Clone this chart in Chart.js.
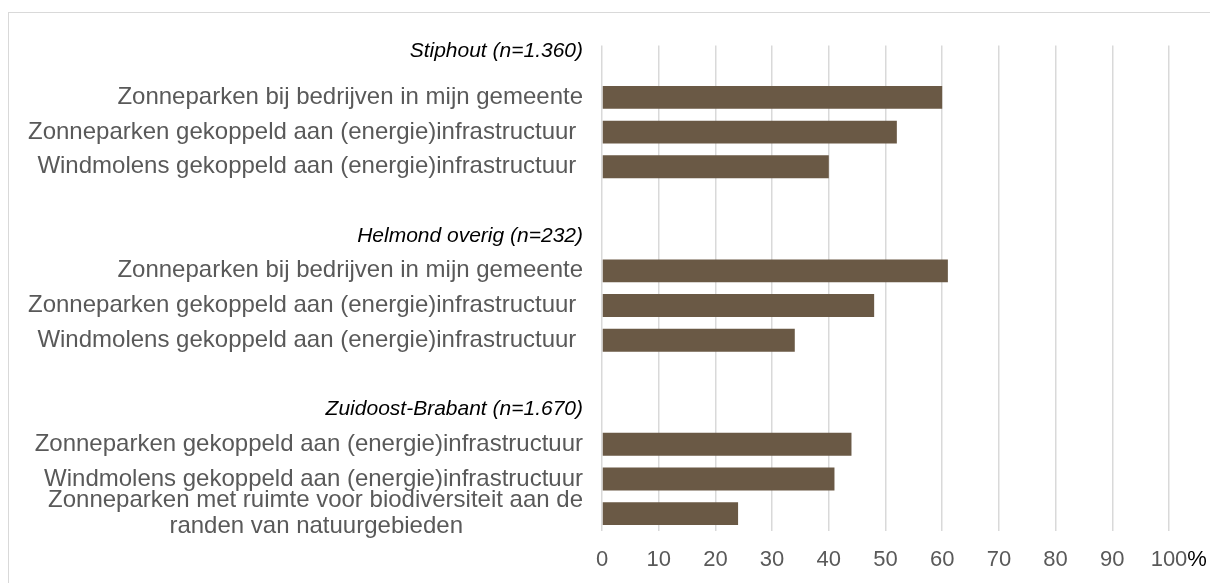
<html>
<head>
<meta charset="UTF-8">
<title>Voorkeur locaties</title>
<style>
  html, body { margin: 0; padding: 0; background: #fff; overflow: hidden; }
  #kader { position: absolute; left: 8px; top: 12px; width: 1240px; height: 620px; border: 1.5px solid #d9d9d9; }
  #wrap { position: absolute; left: 0; top: 0; width: 1210px; height: 583px; }
</style>
</head>
<body>
<div id="kader"></div>
<div id="wrap"><canvas id="myChart"></canvas></div>

<script src="https://cdn.jsdelivr.net/npm/chart.js"></script>
<script>
// rijen van boven naar beneden (kopjes en lege regels zonder balk)
var categorieen = [
  ['Stiphout (n=1.360)', ''],
  'Zonneparken bij bedrijven in mijn gemeente',
  'Zonneparken gekoppeld aan (energie)infrastructuur ',
  'Windmolens gekoppeld aan (energie)infrastructuur ',
  '',
  'Helmond overig (n=232)',
  'Zonneparken bij bedrijven in mijn gemeente',
  'Zonneparken gekoppeld aan (energie)infrastructuur ',
  'Windmolens gekoppeld aan (energie)infrastructuur ',
  '',
  'Zuidoost-Brabant (n=1.670)',
  'Zonneparken gekoppeld aan (energie)infrastructuur',
  'Windmolens gekoppeld aan (energie)infrastructuur',
  ['Zonneparken met ruimte voor biodiversiteit aan de', 'randen van natuurgebieden                  ']
];
var kopjes = [0, 5, 10];
var percentages = [null, 60, 52, 40, null, null, 61, 48, 34, null, null, 44, 41, 24];
var xTicks = [0, 10, 20, 30, 40, 50, 60, 70, 80, 90, 100];

var FONT = '"Liberation Sans", Arial, sans-serif';

var procentTeken = {
  id: 'procentTeken',
  afterDraw: (chart) => {
    var sx = chart.scales.x;
    var c = chart.ctx;
    c.save();
    c.font = '22px ' + FONT;
    var w = c.measureText('100').width;
    c.fillStyle = '#000';
    c.textAlign = 'left';
    c.textBaseline = 'middle';
    c.fillText('%', sx.getPixelForValue(100) + w / 2, sx.top + 16 + 13);
    c.restore();
  }
};

var ctx = document.getElementById('myChart').getContext('2d');
var chart = new Chart(ctx, {
  type: 'bar',
  data: {
    labels: categorieen,
    datasets: [{
      data: percentages,
      backgroundColor: '#6a5945',
      borderWidth: 0,
      barPercentage: 0.66,
      categoryPercentage: 1
    }]
  },
  options: {
    indexAxis: 'y',
    responsive: true,
    maintainAspectRatio: false,
    animation: false,
    layout: { padding: { top: 41, right: 41, left: 0, bottom: 0 } },
    plugins: { legend: { display: false }, tooltip: { enabled: false } },
    scales: {
      x: {
        min: 0, max: 100,
        afterFit: (s) => { s.height = 52; },
        afterBuildTicks: (s) => { s.ticks = xTicks.map(v => ({ value: v })); },
        grid: { color: '#d9d9d9', lineWidth: 1.5, drawTicks: false },
        border: { display: false },
        ticks: { color: '#595959', font: { family: FONT, size: 22 }, padding: 16 }
      },
      y: {
        afterFit: (s) => { s.width = 602; },
        grid: { display: false, drawTicks: false },
        border: { display: false },
        ticks: {
          autoSkip: false,
          crossAlign: 'near',
          padding: 19,
          color: (c) => kopjes.includes(c.index) ? '#000' : '#595959',
          font: (c) => kopjes.includes(c.index)
            ? { family: FONT, size: 21, style: 'italic', lineHeight: 1.1 }
            : { family: FONT, size: 24, lineHeight: 1.1 }
        }
      }
    }
  },
  plugins: [procentTeken]
});
</script>
</body>
</html>
